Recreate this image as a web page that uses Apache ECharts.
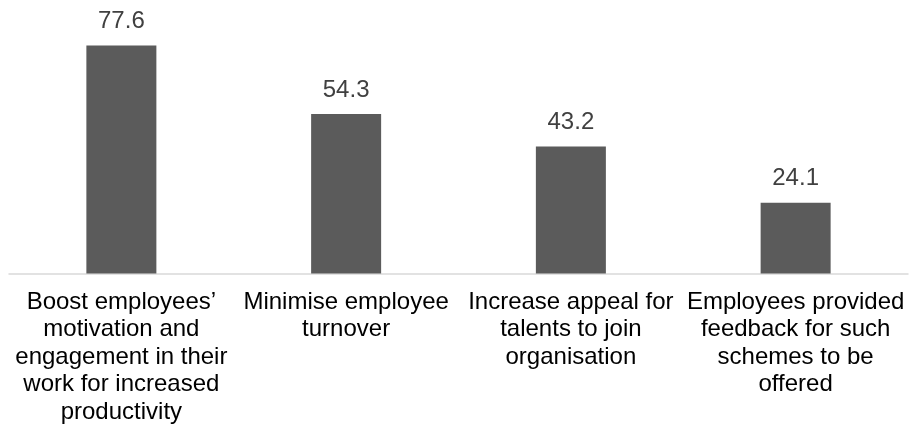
<!DOCTYPE html>
<html>
<head>
<meta charset="utf-8">
<script src="https://cdn.jsdelivr.net/npm/echarts@6/dist/echarts.min.js"></script>
<style>
  html, body { margin: 0; padding: 0; background: #ffffff; }
  #chart { width: 909px; height: 426px; }
</style>
</head>
<body>
<div id="chart"></div>
<script>
// Reasons for offering the schemes (%)
const categories = [
  'Boost employees\u2019\nmotivation and\nengagement in their\nwork for increased\nproductivity',
  'Minimise employee\nturnover',
  'Increase appeal for\ntalents to join\norganisation',
  'Employees provided\nfeedback for such\nschemes to be\noffered'
];
const values = [77.6, 54.3, 43.2, 24.1];

const FONT = '"Liberation Sans", Arial, Helvetica, sans-serif';

const chart = echarts.init(document.getElementById('chart'), null, { renderer: 'canvas' });
chart.setOption({
  animation: false,
  backgroundColor: '#ffffff',
  grid: { left: 9, right: 1, top: 38.5, bottom: 152.5, containLabel: false },
  xAxis: {
    type: 'category',
    data: categories,
    axisLine: { lineStyle: { color: '#d9d9d9', width: 1.5 } },
    axisTick: { show: false },
    axisLabel: {
      interval: 0,
      margin: 15,
      color: '#000000',
      fontFamily: FONT,
      fontSize: 24,
      lineHeight: 27.5,
      align: 'center'
    }
  },
  yAxis: {
    type: 'value',
    min: 0,
    max: 80,
    show: false,
    splitLine: { show: false }
  },
  series: [{
    type: 'bar',
    data: values,
    barWidth: 70,
    itemStyle: { color: '#5b5b5b' },
    label: {
      show: true,
      position: 'top',
      distance: 12,
      color: '#404040',
      fontFamily: FONT,
      fontSize: 24,
      formatter: p => p.value.toFixed(1)
    }
  }]
});
</script>
</body>
</html>
